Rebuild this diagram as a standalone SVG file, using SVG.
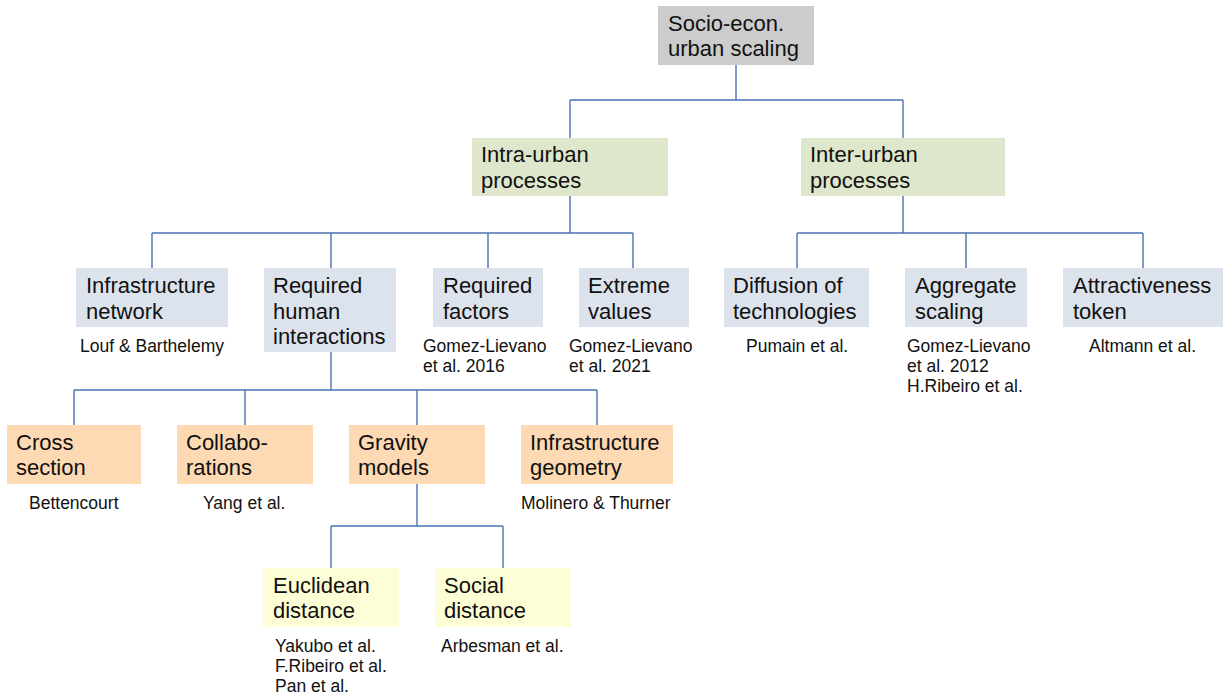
<svg xmlns="http://www.w3.org/2000/svg" width="1227" height="695" viewBox="0 0 1227 695">
  <style>
    .lbl { font-family: "Liberation Sans", Arial, sans-serif; font-size: 22px; fill: #111; }
    .ref { font-family: "Liberation Sans", Arial, sans-serif; font-size: 17.5px; fill: #111; }
    .root { fill: #cccccc; }
    .l2 { fill: #dee7cb; }
    .l3 { fill: #dde3ec; }
    .l4 { fill: #fdd9b4; }
    .l5 { fill: #fefed6; }
    .edge { fill: none; stroke: #4a72b2; stroke-width: 1.4; }
  </style>
  <rect width="1227" height="695" fill="#ffffff"/>

  <!-- tree connectors -->
  <g id="connectors" class="edge">
    <path d="M736 65V100M570 100H903M570 100V138M903 100V138"/>
    <path d="M570 196V233M152 233H633M152 233V268M331 233V268M488 233V268M633 233V268"/>
    <path d="M903 196V233M797 233H1143M797 233V268M966 233V268M1143 233V268"/>
    <path d="M331 352V390M74 390H597M74 390V425M245 390V425M417 390V425M597 390V425"/>
    <path d="M417 484V526M331 526H503M331 526V568M503 526V568"/>
  </g>

  <!-- level 1 -->
  <g id="root">
    <rect class="root" x="658" y="6" width="156" height="59"/>
    <text class="lbl" x="668" y="31">Socio-econ.</text>
    <text class="lbl" x="668" y="56">urban scaling</text>
  </g>

  <!-- level 2 -->
  <g id="intra">
    <rect class="l2" x="472" y="138" width="196" height="58"/>
    <text class="lbl" x="481" y="162">Intra-urban</text>
    <text class="lbl" x="481" y="188">processes</text>
  </g>
  <g id="inter">
    <rect class="l2" x="801" y="138" width="204" height="58"/>
    <text class="lbl" x="810" y="162">Inter-urban</text>
    <text class="lbl" x="810" y="188">processes</text>
  </g>

  <!-- level 3 -->
  <g id="infra-network">
    <rect class="l3" x="76" y="268" width="152" height="59"/>
    <text class="lbl" x="86" y="293">Infrastructure</text>
    <text class="lbl" x="86" y="319">network</text>
    <text class="ref" x="80" y="352">Louf &amp; Barthelemy</text>
  </g>
  <g id="human-interactions">
    <rect class="l3" x="264" y="268" width="132" height="84"/>
    <text class="lbl" x="273" y="293">Required</text>
    <text class="lbl" x="273" y="319">human</text>
    <text class="lbl" x="273" y="344">interactions</text>
  </g>
  <g id="required-factors">
    <rect class="l3" x="433" y="268" width="110" height="59"/>
    <text class="lbl" x="443" y="293">Required</text>
    <text class="lbl" x="443" y="319">factors</text>
    <text class="ref" x="423" y="352">Gomez-Lievano</text>
    <text class="ref" x="423" y="372">et al. 2016</text>
  </g>
  <g id="extreme-values">
    <rect class="l3" x="579" y="268" width="110" height="59"/>
    <text class="lbl" x="588" y="293">Extreme</text>
    <text class="lbl" x="588" y="319">values</text>
    <text class="ref" x="569" y="352">Gomez-Lievano</text>
    <text class="ref" x="569" y="372">et al. 2021</text>
  </g>
  <g id="diffusion">
    <rect class="l3" x="724" y="268" width="145" height="59"/>
    <text class="lbl" x="733" y="293">Diffusion of</text>
    <text class="lbl" x="733" y="319">technologies</text>
    <text class="ref" x="746" y="352">Pumain et al.</text>
  </g>
  <g id="aggregate">
    <rect class="l3" x="905" y="268" width="122" height="59"/>
    <text class="lbl" x="915" y="293">Aggregate</text>
    <text class="lbl" x="915" y="319">scaling</text>
    <text class="ref" x="907" y="352">Gomez-Lievano</text>
    <text class="ref" x="907" y="372">et al. 2012</text>
    <text class="ref" x="907" y="392">H.Ribeiro et al.</text>
  </g>
  <g id="attractiveness">
    <rect class="l3" x="1063" y="268" width="160" height="59"/>
    <text class="lbl" x="1073" y="293">Attractiveness</text>
    <text class="lbl" x="1073" y="319">token</text>
    <text class="ref" x="1089" y="352">Altmann et al.</text>
  </g>

  <!-- level 4 -->
  <g id="cross-section">
    <rect class="l4" x="7" y="425" width="134" height="59"/>
    <text class="lbl" x="16" y="450">Cross</text>
    <text class="lbl" x="16" y="475">section</text>
    <text class="ref" x="29" y="509">Bettencourt</text>
  </g>
  <g id="collaborations">
    <rect class="l4" x="177" y="425" width="136" height="59"/>
    <text class="lbl" x="186" y="450">Collabo-</text>
    <text class="lbl" x="186" y="475">rations</text>
    <text class="ref" x="203" y="509">Yang et al.</text>
  </g>
  <g id="gravity">
    <rect class="l4" x="349" y="425" width="136" height="59"/>
    <text class="lbl" x="358" y="450">Gravity</text>
    <text class="lbl" x="358" y="475">models</text>
  </g>
  <g id="infra-geometry">
    <rect class="l4" x="521" y="425" width="152" height="59"/>
    <text class="lbl" x="530" y="450">Infrastructure</text>
    <text class="lbl" x="530" y="475">geometry</text>
    <text class="ref" x="521" y="509">Molinero &amp; Thurner</text>
  </g>

  <!-- level 5 -->
  <g id="euclidean">
    <rect class="l5" x="263" y="568" width="136" height="59"/>
    <text class="lbl" x="273" y="593">Euclidean</text>
    <text class="lbl" x="273" y="618">distance</text>
    <text class="ref" x="275" y="652">Yakubo et al.</text>
    <text class="ref" x="275" y="672">F.Ribeiro et al.</text>
    <text class="ref" x="275" y="692">Pan et al.</text>
  </g>
  <g id="social">
    <rect class="l5" x="435" y="568" width="136" height="59"/>
    <text class="lbl" x="444" y="593">Social</text>
    <text class="lbl" x="444" y="618">distance</text>
    <text class="ref" x="441" y="652">Arbesman et al.</text>
  </g>
</svg>
